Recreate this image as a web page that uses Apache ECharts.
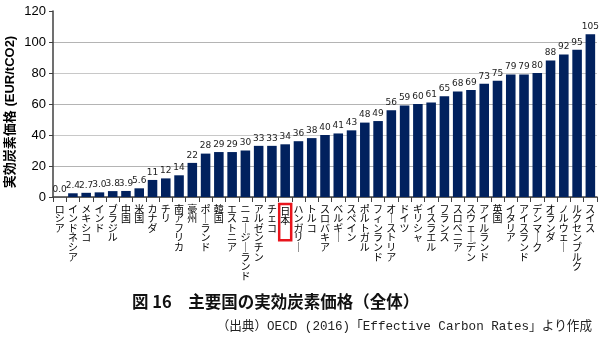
<!DOCTYPE html>
<html><head><meta charset="utf-8">
<script src="https://cdn.jsdelivr.net/npm/echarts@6/dist/echarts.min.js"></script>
<style>html,body{margin:0;padding:0;background:#fff}#c{width:600px;height:340px}</style>
</head><body><div id="c"></div>
<script>
const categories = ['ロシア','インドネシア','メキシコ','インド','ブラジル','中国','米国','カナダ','チリ','南アフリカ','豪州','ポーランド','韓国','エストニア','ニュージーランド','アルゼンチン','チェコ','日本','ハンガリー','トルコ','スロバキア','ベルギー','スペイン','ポルトガル','フィンランド','オーストリア','ドイツ','ギリシャ','イスラエル','フランス','スロベニア','スウェーデン','アイルランド','英国','イタリア','アイスランド','デンマーク','オランダ','ノルウェー','ルクセンブルク','スイス'];
const values = [0.0,2.4,2.7,3.0,3.8,3.9,5.6,11,12,14,22,28,29,29,30,33,33,34,36,38,40,41,43,48,49,56,59,60,61,65,68,69,73,75,79,79,80,88,92,95,105];
const yTicks = [0,20,40,60,80,100,120];
const highlighted = '日本';
const yTitle = '実効炭素価格 (EUR/tCO2)';
const figTitle = '図 16　主要国の実効炭素価格（全体）';
const sourceText = '（出典）OECD (2016)「Effective Carbon Rates」より作成';

const chart = echarts.init(document.getElementById('c'));
const xData = categories.map(c => c === highlighted
  ? {value: c, textStyle: {borderColor: '#e8141c', borderWidth: 2.5, padding: [2, 1, 15, 1]}}
  : c);
chart.setOption({
  animation: false,
  grid: {left: 53, right: 3, top: 11, bottom: 143},
  xAxis: {
    type: 'category', data: xData,
    axisLine: {lineStyle: {color: '#404040', width: 1.5}},
    axisTick: {show: true, length: 5, lineStyle: {color: '#404040'}},
    axisLabel: {
      interval: 0, margin: 7, color: '#000', fontSize: 10, lineHeight: 9.6,
      fontFamily: '"Noto Sans CJK JP", sans-serif',
      formatter: v => v.split('').map(ch => ch === 'ー' ? '｜' : ch).join('\n')
    }
  },
  yAxis: {
    type: 'value', min: yTicks[0], max: yTicks[yTicks.length - 1], interval: 20,
    axisLine: {show: true, lineStyle: {color: '#404040', width: 1.5}},
    axisTick: {show: true, length: 4, lineStyle: {color: '#404040'}},
    axisLabel: {color: '#000', fontSize: 13, fontFamily: '"Liberation Sans", Arial, sans-serif', margin: 7},
    splitLine: {lineStyle: {color: ['#b4b4b4','#b4b4b4','#c8c8c8','#b4b4b4','#c8c8c8','#b4b4b4','rgba(0,0,0,0)'], width: 1}}
  },
  series: [{
    type: 'bar', data: values, barCategoryGap: '28%',
    itemStyle: {color: '#01215e'},
    label: {
      show: true, position: 'top', distance: 3, color: '#222', fontSize: 9,
      fontFamily: '"DejaVu Sans", sans-serif',
      formatter: p => p.value < 10 ? p.value.toFixed(1) : String(p.value)
    }
  }],
  graphic: [
    {type: 'text', x: 10, y: 112, rotation: Math.PI / 2,
     style: {text: yTitle, fill: '#000', font: 'bold 13px "Liberation Sans", "Noto Sans CJK JP", sans-serif', align: 'center', verticalAlign: 'middle'}},
    {type: 'text', left: 132, top: 293,
     style: {text: figTitle, fill: '#111', font: 'bold 16.5px "Noto Sans CJK JP", sans-serif'}},
    {type: 'text', right: 8, top: 320,
     style: {text: sourceText, fill: '#222', font: '12.6px "Liberation Mono", "Noto Sans CJK JP", monospace'}}
  ]
});
</script></body></html>
